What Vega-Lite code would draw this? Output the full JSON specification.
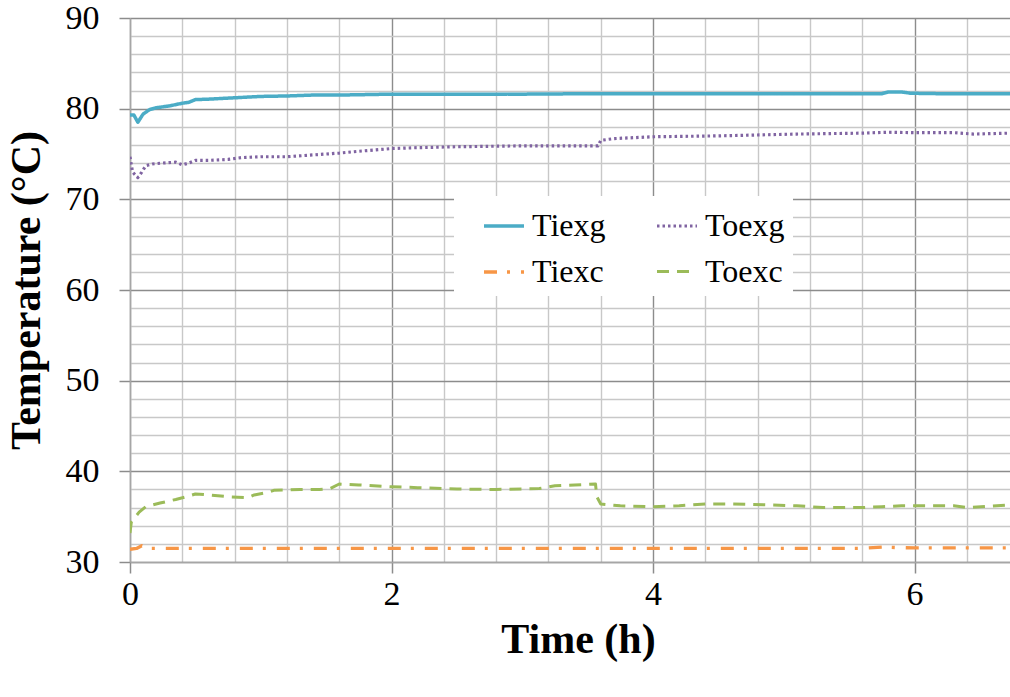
{
  "$schema": "https://vega.github.io/schema/vega-lite/v6.json",
  "width": 880,
  "height": 544,
  "autosize": {"type": "none"},
  "padding": {"left": 130, "top": 18, "right": 0, "bottom": 135},
  "background": "white",
  "config": {
    "view": {"stroke": null},
    "font": "Liberation Serif",
    "axis": {
      "labelFont": "Liberation Serif",
      "labelColor": "black",
      "labelFontSize": 34,
      "titleFont": "Liberation Serif",
      "titleFontWeight": "bold",
      "titleColor": "black",
      "titleFontSize": 42,
      "domainColor": "#a6a6a6",
      "domainWidth": 1.5,
      "tickColor": "#8c8c8c",
      "tickWidth": 1.5,
      "tickSize": 11,
      "gridWidth": 1.4
    },
    "legend": {
      "labelFont": "Liberation Serif",
      "labelFontSize": 32,
      "labelColor": "black",
      "labelLimit": 300
    }
  },
  "data": {
    "values": [
      {"t": 0, "s": "Tiexg", "v": 79.3},
      {"t": 0.03, "s": "Tiexg", "v": 79.3},
      {"t": 0.06, "s": "Tiexg", "v": 78.5},
      {"t": 0.1, "s": "Tiexg", "v": 79.4},
      {"t": 0.15, "s": "Tiexg", "v": 79.9},
      {"t": 0.2, "s": "Tiexg", "v": 80.1},
      {"t": 0.3, "s": "Tiexg", "v": 80.3},
      {"t": 0.4, "s": "Tiexg", "v": 80.6},
      {"t": 0.45, "s": "Tiexg", "v": 80.7},
      {"t": 0.5, "s": "Tiexg", "v": 81.0},
      {"t": 0.6, "s": "Tiexg", "v": 81.05},
      {"t": 0.8, "s": "Tiexg", "v": 81.2},
      {"t": 1.0, "s": "Tiexg", "v": 81.35},
      {"t": 1.2, "s": "Tiexg", "v": 81.4},
      {"t": 1.4, "s": "Tiexg", "v": 81.5},
      {"t": 1.6, "s": "Tiexg", "v": 81.5},
      {"t": 1.8, "s": "Tiexg", "v": 81.55},
      {"t": 2.0, "s": "Tiexg", "v": 81.6},
      {"t": 2.5, "s": "Tiexg", "v": 81.6},
      {"t": 3.0, "s": "Tiexg", "v": 81.6},
      {"t": 3.5, "s": "Tiexg", "v": 81.65},
      {"t": 4.0, "s": "Tiexg", "v": 81.65},
      {"t": 4.5, "s": "Tiexg", "v": 81.65},
      {"t": 5.0, "s": "Tiexg", "v": 81.65},
      {"t": 5.5, "s": "Tiexg", "v": 81.65},
      {"t": 5.75, "s": "Tiexg", "v": 81.65},
      {"t": 5.8, "s": "Tiexg", "v": 81.85},
      {"t": 5.9, "s": "Tiexg", "v": 81.85},
      {"t": 5.97, "s": "Tiexg", "v": 81.7},
      {"t": 6.2, "s": "Tiexg", "v": 81.65},
      {"t": 6.73, "s": "Tiexg", "v": 81.65},

      {"t": 0, "s": "Toexg", "v": 74.7},
      {"t": 0.01, "s": "Toexg", "v": 73.8},
      {"t": 0.02, "s": "Toexg", "v": 73.0},
      {"t": 0.06, "s": "Toexg", "v": 72.4},
      {"t": 0.09, "s": "Toexg", "v": 73.0},
      {"t": 0.12, "s": "Toexg", "v": 73.7},
      {"t": 0.17, "s": "Toexg", "v": 73.9},
      {"t": 0.25, "s": "Toexg", "v": 74.0},
      {"t": 0.35, "s": "Toexg", "v": 74.1},
      {"t": 0.4, "s": "Toexg", "v": 73.8},
      {"t": 0.45, "s": "Toexg", "v": 74.0},
      {"t": 0.5, "s": "Toexg", "v": 74.3},
      {"t": 0.6, "s": "Toexg", "v": 74.3},
      {"t": 0.75, "s": "Toexg", "v": 74.4},
      {"t": 0.85, "s": "Toexg", "v": 74.6},
      {"t": 1.0, "s": "Toexg", "v": 74.7},
      {"t": 1.2, "s": "Toexg", "v": 74.7},
      {"t": 1.4, "s": "Toexg", "v": 74.9},
      {"t": 1.6, "s": "Toexg", "v": 75.1},
      {"t": 1.75, "s": "Toexg", "v": 75.3},
      {"t": 2.0, "s": "Toexg", "v": 75.6},
      {"t": 2.2, "s": "Toexg", "v": 75.7},
      {"t": 2.5, "s": "Toexg", "v": 75.8},
      {"t": 3.0, "s": "Toexg", "v": 75.9},
      {"t": 3.58, "s": "Toexg", "v": 75.9},
      {"t": 3.6, "s": "Toexg", "v": 76.5},
      {"t": 3.7, "s": "Toexg", "v": 76.7},
      {"t": 4.0, "s": "Toexg", "v": 76.9},
      {"t": 4.5, "s": "Toexg", "v": 77.0},
      {"t": 5.1, "s": "Toexg", "v": 77.2},
      {"t": 5.6, "s": "Toexg", "v": 77.3},
      {"t": 5.8, "s": "Toexg", "v": 77.4},
      {"t": 6.0, "s": "Toexg", "v": 77.35},
      {"t": 6.3, "s": "Toexg", "v": 77.35},
      {"t": 6.45, "s": "Toexg", "v": 77.2},
      {"t": 6.73, "s": "Toexg", "v": 77.3},

      {"t": 0, "s": "Tiexc", "v": 31.4},
      {"t": 0.05, "s": "Tiexc", "v": 31.5},
      {"t": 0.09, "s": "Tiexc", "v": 31.8},
      {"t": 0.15, "s": "Tiexc", "v": 31.5},
      {"t": 0.5, "s": "Tiexc", "v": 31.5},
      {"t": 1.0, "s": "Tiexc", "v": 31.5},
      {"t": 2.0, "s": "Tiexc", "v": 31.5},
      {"t": 3.0, "s": "Tiexc", "v": 31.5},
      {"t": 4.0, "s": "Tiexc", "v": 31.5},
      {"t": 5.0, "s": "Tiexc", "v": 31.5},
      {"t": 5.6, "s": "Tiexc", "v": 31.5},
      {"t": 5.75, "s": "Tiexc", "v": 31.65},
      {"t": 5.85, "s": "Tiexc", "v": 31.6},
      {"t": 6.0, "s": "Tiexc", "v": 31.55},
      {"t": 6.73, "s": "Tiexc", "v": 31.55},

      {"t": 0, "s": "Toexc", "v": 33.2},
      {"t": 0.01, "s": "Toexc", "v": 34.4},
      {"t": 0.07, "s": "Toexc", "v": 35.5},
      {"t": 0.12, "s": "Toexc", "v": 36.1},
      {"t": 0.23, "s": "Toexc", "v": 36.5},
      {"t": 0.35, "s": "Toexc", "v": 36.9},
      {"t": 0.43, "s": "Toexc", "v": 37.2},
      {"t": 0.5, "s": "Toexc", "v": 37.5},
      {"t": 0.6, "s": "Toexc", "v": 37.4},
      {"t": 0.75, "s": "Toexc", "v": 37.2},
      {"t": 0.9, "s": "Toexc", "v": 37.1},
      {"t": 0.95, "s": "Toexc", "v": 37.4},
      {"t": 1.06, "s": "Toexc", "v": 37.7},
      {"t": 1.1, "s": "Toexc", "v": 37.9},
      {"t": 1.3, "s": "Toexc", "v": 38.0},
      {"t": 1.45, "s": "Toexc", "v": 38.0},
      {"t": 1.53, "s": "Toexc", "v": 38.1},
      {"t": 1.6, "s": "Toexc", "v": 38.6},
      {"t": 1.75, "s": "Toexc", "v": 38.5},
      {"t": 2.0, "s": "Toexc", "v": 38.3},
      {"t": 2.2, "s": "Toexc", "v": 38.2},
      {"t": 2.5, "s": "Toexc", "v": 38.05},
      {"t": 2.8, "s": "Toexc", "v": 38.0},
      {"t": 3.0, "s": "Toexc", "v": 38.05},
      {"t": 3.13, "s": "Toexc", "v": 38.1},
      {"t": 3.25, "s": "Toexc", "v": 38.4},
      {"t": 3.4, "s": "Toexc", "v": 38.5},
      {"t": 3.56, "s": "Toexc", "v": 38.6},
      {"t": 3.57, "s": "Toexc", "v": 37.2},
      {"t": 3.6, "s": "Toexc", "v": 36.4},
      {"t": 3.75, "s": "Toexc", "v": 36.2},
      {"t": 4.0, "s": "Toexc", "v": 36.1},
      {"t": 4.2, "s": "Toexc", "v": 36.2},
      {"t": 4.4, "s": "Toexc", "v": 36.4},
      {"t": 4.6, "s": "Toexc", "v": 36.4},
      {"t": 4.9, "s": "Toexc", "v": 36.3},
      {"t": 5.1, "s": "Toexc", "v": 36.2},
      {"t": 5.3, "s": "Toexc", "v": 36.0},
      {"t": 5.6, "s": "Toexc", "v": 36.0},
      {"t": 5.75, "s": "Toexc", "v": 36.1},
      {"t": 5.9, "s": "Toexc", "v": 36.2},
      {"t": 6.3, "s": "Toexc", "v": 36.2},
      {"t": 6.4, "s": "Toexc", "v": 36.0},
      {"t": 6.73, "s": "Toexc", "v": 36.3}
    ]
  },
  "resolve": {"axis": {"x": "independent", "y": "independent"}},
  "layer": [
    {
      "mark": {"type": "line", "opacity": 0},
      "encoding": {
        "x": {
          "field": "t",
          "type": "quantitative",
          "scale": {"domain": [0, 6.73], "nice": false, "zero": false},
          "axis": {
            "orient": "bottom",
            "title": null,
            "values": [0.4, 0.8, 1.2, 1.6, 2.4, 2.8, 3.2, 3.6, 4.4, 4.8, 5.2, 5.6, 6.4],
            "labels": false,
            "ticks": false,
            "domain": false,
            "grid": true,
            "gridColor": "#c8c8c8"
          }
        },
        "y": {
          "field": "v",
          "type": "quantitative",
          "scale": {"domain": [30, 90], "nice": false, "zero": false},
          "axis": {
            "orient": "left",
            "title": null,
            "values": [32, 34, 36, 38, 42, 44, 46, 48, 52, 54, 56, 58, 62, 64, 66, 68, 72, 74, 76, 78, 82, 84, 86, 88],
            "labels": false,
            "ticks": false,
            "domain": false,
            "grid": true,
            "gridColor": "#c8c8c8"
          }
        },
        "detail": {"field": "s", "type": "nominal"}
      }
    },
    {
      "mark": {"type": "line", "clip": true, "strokeCap": "butt", "strokeJoin": "round"},
      "encoding": {
        "x": {
          "field": "t",
          "type": "quantitative",
          "axis": {
            "orient": "bottom",
            "title": "Time (h)",
            "values": [0, 2, 4, 6],
            "format": "d",
            "labelFont": "Liberation Serif",
            "labelFlush": false,
            "labelPadding": 4,
            "titlePadding": 8,
            "titleX": 448,
            "titleAnchor": "middle",
            "grid": true,
            "gridColor": "#8c8c8c"
          }
        },
        "y": {
          "field": "v",
          "type": "quantitative",
          "axis": {
            "orient": "left",
            "title": "Temperature (°C)",
            "values": [30, 40, 50, 60, 70, 80, 90],
            "format": "d",
            "labelFont": "Liberation Serif",
            "labelPadding": 20,
            "titlePadding": 17,
            "grid": true,
            "gridColor": "#8c8c8c"
          }
        },
        "color": {
          "field": "s",
          "type": "nominal",
          "scale": {"domain": ["Tiexg", "Tiexc", "Toexg", "Toexc"], "range": ["#4BACC6", "#F79646", "#8064A2", "#9BBB59"]},
          "legend": {
            "title": null,
            "orient": "none",
            "legendX": 324,
            "legendY": 178,
            "columns": 2,
            "columnPadding": 29,
            "rowPadding": 8,
            "padding": 8,
            "fillColor": "white",
            "symbolType": "stroke",
            "symbolSize": 1600,
            "symbolOffset": 20,
            "labelOffset": 6
          }
        },
        "strokeDash": {
          "field": "s",
          "type": "nominal",
          "scale": {"domain": ["Tiexg", "Tiexc", "Toexg", "Toexc"], "range": [[1, 0], [13, 10, 3, 11], [2.5, 3], [12, 8]]},
          "legend": null
        },
        "strokeWidth": {
          "field": "s",
          "type": "nominal",
          "scale": {"domain": ["Tiexg", "Tiexc", "Toexg", "Toexc"], "range": [3.5, 3, 2.5, 3.5]},
          "legend": null
        }
      }
    }
  ]
}
